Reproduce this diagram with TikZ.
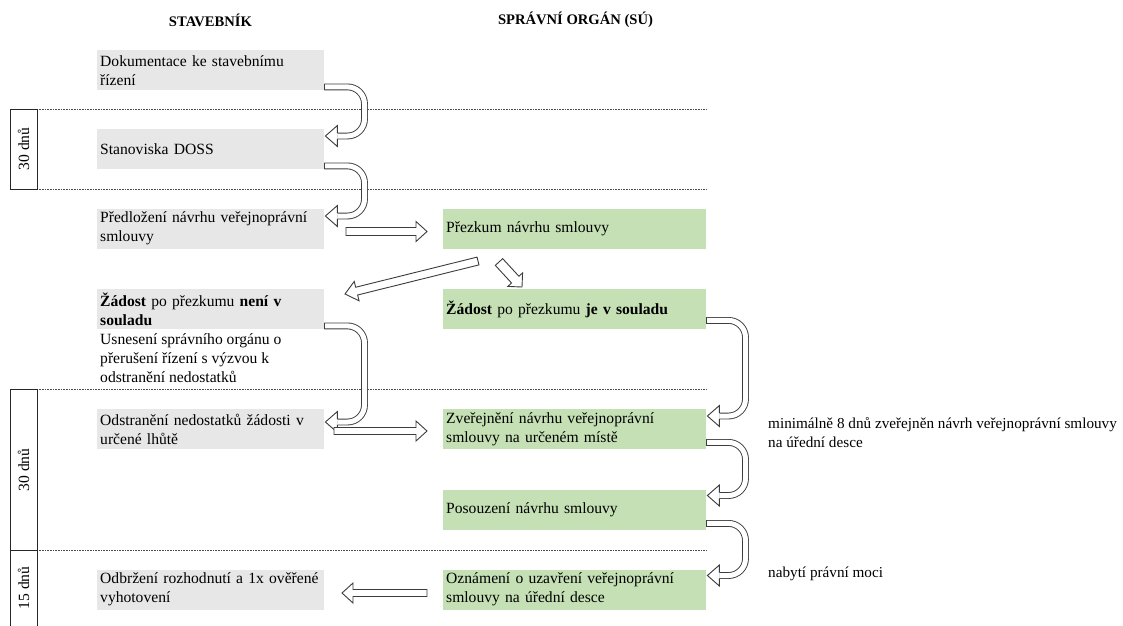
\documentclass[tikz,border=0pt]{standalone}
\usepackage{fontspec}
\setmainfont{Liberation Serif}
\usetikzlibrary{calc}

\definecolor{boxgray}{HTML}{E7E7E7}
\definecolor{boxgreen}{HTML}{C5E0B4}
\definecolor{outline}{HTML}{3C3C3C}

\newcommand\bodyfont{\fontsize{15.6}{19}\selectfont}
\newcommand\notefont{\fontsize{15.2}{19}\selectfont}
\newcommand\headfont{\fontsize{14.6}{17}\selectfont\bfseries}

\tikzset{
  lbox/.style={fill=boxgray, anchor=north west, text width=221pt, inner xsep=3pt,
    inner ysep=1pt, minimum height=40pt, align=left, font=\bodyfont},
  rbox/.style={lbox, fill=boxgreen, text width=257pt},
  plaintext/.style={anchor=west, align=left, inner sep=0pt, font=\bodyfont},
  ushaft/.style={draw=outline, line width=0.9pt, double=white, double distance=5pt,
    rounded corners=17pt},
  bhead/.style={draw=outline, line width=0.9pt, fill=white, line join=miter},
  dotsep/.style={draw=black!70, line width=0.7pt, dash pattern=on 0.7pt off 0.9pt},
  daybox/.style={draw=black!85, line width=0.8pt},
}

% hollow U-turn arrow: start point, tip point, coordinate giving the turn's x
\newcommand\uturnarrow[3]{%
  \draw[ushaft] (#1) -- (#1 -| #3) -- (#2 -| #3) -- ($(#2)+(12,0)$);
  \draw[bhead] ($(#2)+(12,-2.95)$) -- ($(#2)+(12,-10.5)$) -- (#2)
    -- ($(#2)+(12,10.5)$) -- ($(#2)+(12,2.95)$);
  \draw[draw=outline, line width=0.9pt] ($(#1)+(0,-3.4)$) -- ($(#1)+(0,3.4)$);
}

% hollow straight block arrow: tail, tip, shaft half width, head half width, head length
\newcommand\blockarrow[5]{%
  \coordinate (hb) at ($(#2)!#5!(#1)$);
  \draw[bhead] ($(#1)!#3!90:(#2)$) -- ($(hb)!#3!-90:(#1)$) -- ($(hb)!#4!-90:(#1)$)
    -- (#2) -- ($(hb)!#4!90:(#1)$) -- ($(hb)!#3!90:(#1)$) -- ($(#1)!#3!-90:(#2)$) -- cycle;
}

\begin{document}
\begin{tikzpicture}[x=1pt, y=-1pt]
\useasboundingbox[fill=white] (0,0) rectangle (1123,625);

% column headings
\node[font=\headfont] (h1) at (210.5,20) {STAVEBNÍK};
\node[font=\headfont] (h2) at (575.5,20) {SPRÁVNÍ ORGÁN (SÚ)};

% dotted period separators
\draw[dotsep] (37,109) -- (706,109);
\draw[dotsep] (37,189) -- (706,189);
\draw[dotsep] (37,389) -- (706,389);
\draw[dotsep] (37,550) -- (706,550);

% period boxes
\draw[daybox] (10.5,109) rectangle (37,189);
\node[rotate=90, font=\bodyfont] (d1) at (23.5,149) {30 dnů};
\draw[daybox] (10.5,389) rectangle (37,550);
\node[rotate=90, font=\bodyfont] (d2) at (23.5,470) {30 dnů};
\draw[daybox] (10.5,626) -- (10.5,550) -- (37,550) -- (37,626);
\node[rotate=90, font=\bodyfont] (d3) at (23.5,588) {15 dnů};

% builder column
\node[lbox] (L1) at (97,50) {Dokumentace ke stavebnímu\\řízení};
\node[lbox] (L2) at (97,129) {Stanoviska DOSS};
\node[lbox] (L3) at (97,208.5) {Předložení návrhu veřejnoprávní\\smlouvy};
\node[lbox] (L4) at (97,289) {\textbf{Žádost} po přezkumu \textbf{není v}\\\textbf{souladu}};
\node[plaintext, anchor=north west, inner xsep=3pt] (L4b) at (97,333)
  {Usnesení správního orgánu o\\přerušení řízení s výzvou k\\odstranění nedostatků};
\node[lbox] (L5) at (97,409) {Odstranění nedostatků žádosti v\\určené lhůtě};
\node[lbox] (L6) at (97,569.5) {Odbržení rozhodnutí a 1x ověřené\\vyhotovení};

% authority column
\node[rbox] (R1) at (443,209) {Přezkum návrhu smlouvy};
\node[rbox] (R2) at (443,289) {\textbf{Žádost} po přezkumu \textbf{je v souladu}};
\node[rbox] (R3) at (443,409) {Zveřejnění návrhu veřejnoprávní\\smlouvy na určeném místě};
\node[rbox] (R4) at (443,489.5) {Posouzení návrhu smlouvy};
\node[rbox] (R5) at (443,569.5) {Oznámení o uzavření veřejnoprávní\\smlouvy na úřední desce};

% notes
\node[plaintext, font=\notefont] (n1) at (768,433)
  {minimálně 8 dnů zveřejněn návrh veřejnoprávní smlouvy\\na úřední desce};
\node[plaintext, font=\notefont] (n2) at (768,574) {nabytí právní moci};

% U-turn connectors
\coordinate (lturn) at (364.5,0);
\coordinate (rturn) at (745.5,0);
\coordinate (u1s) at ($(L1.south east)+(0,-3.5)$);
\coordinate (u1e) at ($(L2.north east)+(1,7)$);
\coordinate (u2s) at ($(L2.south east)+(0,-3.5)$);
\coordinate (u2e) at ($(L3.north east)+(1,7.5)$);
\coordinate (u3s) at ($(L4.south east)+(0,-3.5)$);
\coordinate (u3e) at ($(L5.north east)+(1,13)$);
\coordinate (u4s) at ($(R2.south east)+(0,-9)$);
\coordinate (u4e) at ($(R3.north east)+(1,7)$);
\coordinate (u5s) at ($(R3.south east)+(0,-7)$);
\coordinate (u5e) at ($(R4.north east)+(1,6)$);
\coordinate (u6s) at ($(R4.south east)+(0,-6.5)$);
\coordinate (u6e) at ($(R5.north east)+(1,6)$);
\uturnarrow{u1s}{u1e}{lturn}
\uturnarrow{u2s}{u2e}{lturn}
\uturnarrow{u3s}{u3e}{lturn}
\uturnarrow{u4s}{u4e}{rturn}
\uturnarrow{u5s}{u5e}{rturn}
\uturnarrow{u6s}{u6e}{rturn}

% straight connectors
\coordinate (a1t) at (346,231.5);  \coordinate (a1h) at (427,231.5);
\coordinate (a2t) at (334,431);    \coordinate (a2h) at (427,431);
\coordinate (a3t) at (427,593);    \coordinate (a3h) at (342,593);
\coordinate (a4t) at (478,261);    \coordinate (a4h) at (345,294);
\coordinate (a5t) at (499,262);    \coordinate (a5h) at (522,287);
\blockarrow{a1t}{a1h}{4pt}{10pt}{11pt}
\blockarrow{a2t}{a2h}{3.5pt}{10pt}{11pt}
\blockarrow{a3t}{a3h}{3.5pt}{10pt}{11pt}
\blockarrow{a4t}{a4h}{4pt}{10pt}{12pt}
\blockarrow{a5t}{a5h}{5pt}{10pt}{10pt}
\end{tikzpicture}
\end{document}
